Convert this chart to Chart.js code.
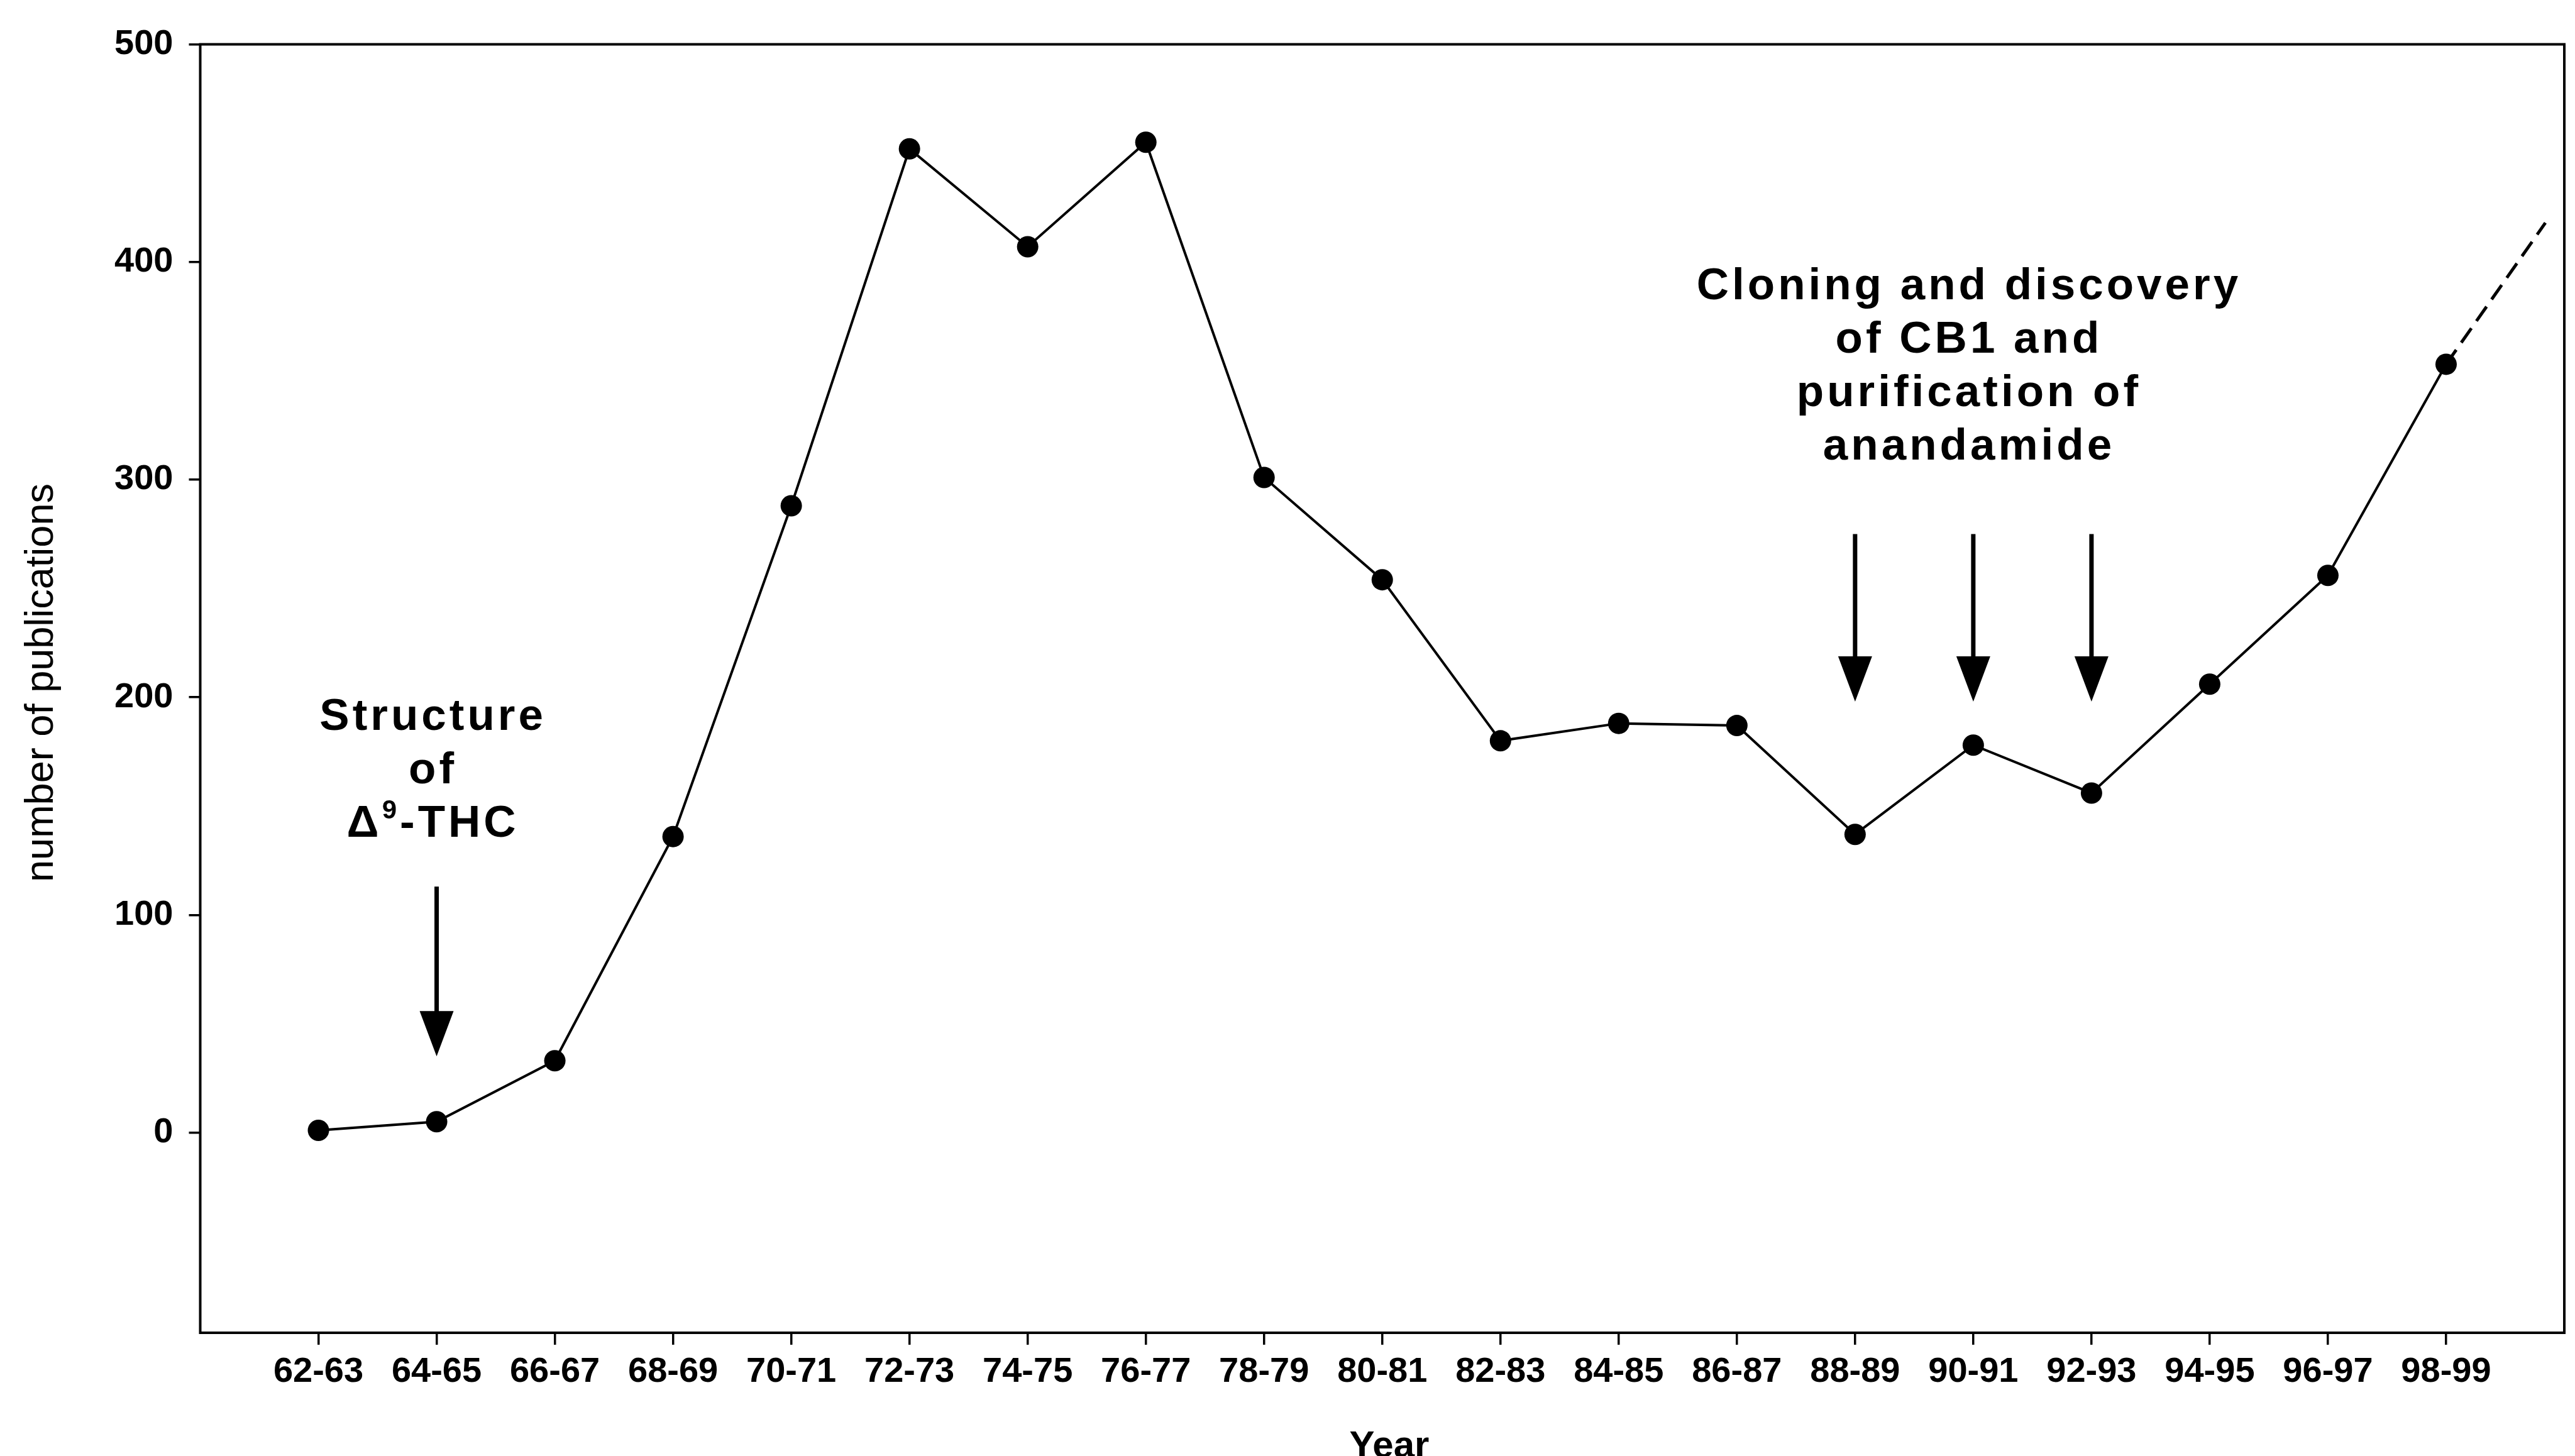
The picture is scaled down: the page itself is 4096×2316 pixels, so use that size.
<!DOCTYPE html>
<html>
<head>
<meta charset="utf-8">
<script src="https://cdn.jsdelivr.net/npm/chart.js@4.4.1/dist/chart.umd.min.js"></script>
<style>
  html, body { margin: 0; padding: 0; background: #fff; }
  canvas { display: block; }
</style>
</head>
<body>
<canvas id="graficoPublicacoes" width="4096" height="2316"></canvas>
<script>
// Número de publicações por biênio
const periodos = ['62-63', '64-65', '66-67', '68-69', '70-71', '72-73', '74-75', '76-77', '78-79', '80-81',
                  '82-83', '84-85', '86-87', '88-89', '90-91', '92-93', '94-95', '96-97', '98-99'];
const publicacoes = [1, 5, 33, 136, 288, 452, 407, 455, 301, 254, 180, 188, 187, 137, 178, 156, 206, 256, 353];

// Extrapolação tracejada depois de 98-99
const tendenciaX = [18, 18.84];
const tendenciaY = [353, 418];

const yTicks = [0, 100, 200, 300, 400, 500];

// Anotações: posição das setas (índice do período) e do texto
const setasEstrutura = [1];
const setasClonagem = [13, 14, 15];
const textoEstrutura = ['Structure', 'of', null]; // a terceira linha é Δ⁹-THC
const textoClonagem = ['Cloning and discovery', 'of CB1 and', 'purification of', 'anandamide'];

const FONTE = '"Liberation Sans", Arial, sans-serif';

// desenha texto centrado com espaçamento entre letras
function textoCentrado(ctx, txt, cx, y, espaco) {
    ctx.letterSpacing = espaco + 'px';
    const w = ctx.measureText(txt).width - espaco;
    ctx.textAlign = 'left';
    ctx.fillText(txt, cx - w / 2, y);
}

function seta(ctx, px, yTopo, yPonta) {
    const cabeca = 72, largura = 54;
    ctx.lineWidth = 7;
    ctx.beginPath();
    ctx.moveTo(px, yTopo);
    ctx.lineTo(px, yPonta - cabeca + 4);
    ctx.stroke();
    ctx.beginPath();
    ctx.moveTo(px - largura / 2, yPonta - cabeca);
    ctx.lineTo(px + largura / 2, yPonta - cabeca);
    ctx.lineTo(px, yPonta);
    ctx.closePath();
    ctx.fill();
}

const anotacoes = {
    id: 'anotacoes',
    afterDatasetsDraw(chart) {
        const { ctx, chartArea, scales: { x, y } } = chart;
        ctx.save();
        ctx.fillStyle = '#000';
        ctx.strokeStyle = '#000';

        // moldura do gráfico
        ctx.lineWidth = 4;
        ctx.strokeRect(chartArea.left, chartArea.top, chartArea.right - chartArea.left, chartArea.bottom - chartArea.top);

        // setas
        setasEstrutura.forEach(i => seta(ctx, x.getPixelForValue(i), y.getPixelForValue(113), y.getPixelForValue(35)));
        setasClonagem.forEach(i => seta(ctx, x.getPixelForValue(i), y.getPixelForValue(275), y.getPixelForValue(198)));

        ctx.textBaseline = 'alphabetic';
        ctx.font = `bold 71px ${FONTE}`;
        const passo = 85;

        // Structure of Δ9-THC
        const cxE = x.getPixelForValue(0.955);
        const yE = y.getPixelForValue(185);
        textoCentrado(ctx, textoEstrutura[0], cxE, yE, 5);
        textoCentrado(ctx, textoEstrutura[1], cxE, yE + passo, 5);
        // linha com sobrescrito
        ctx.letterSpacing = '5px';
        const partes = [
            { t: 'Δ', f: `bold 71px ${FONTE}`, dy: 0 },
            { t: '9', f: `bold 42px ${FONTE}`, dy: -29 },
            { t: '-THC', f: `bold 71px ${FONTE}`, dy: 0 }
        ];
        let total = 0;
        partes.forEach(p => { ctx.font = p.f; p.w = ctx.measureText(p.t).width; total += p.w; });
        let px = cxE - (total - 5) / 2;
        ctx.textAlign = 'left';
        partes.forEach(p => { ctx.font = p.f; ctx.fillText(p.t, px, yE + 2 * passo + p.dy); px += p.w; });

        // Cloning and discovery...
        ctx.font = `bold 71px ${FONTE}`;
        const cxC = x.getPixelForValue(13.95);
        const yC = y.getPixelForValue(383);
        textoClonagem.forEach((linha, k) => textoCentrado(ctx, linha, cxC, yC + k * passo, 5));

        // títulos dos eixos
        ctx.letterSpacing = '0px';
        ctx.textAlign = 'center';
        ctx.font = `bold 60px ${FONTE}`;
        ctx.fillText('Year', 2210, 2318);

        ctx.translate(67, 1086);
        ctx.rotate(-Math.PI / 2);
        ctx.textBaseline = 'middle';
        ctx.font = `63px ${FONTE}`;
        ctx.fillText('number of publications', 0, 0);
        ctx.restore();
    }
};

const ctx = document.getElementById('graficoPublicacoes').getContext('2d');
new Chart(ctx, {
    type: 'line',
    data: {
        datasets: [
            {
                data: publicacoes.map((v, i) => ({ x: i, y: v })),
                borderColor: '#000',
                borderWidth: 4,
                pointRadius: 17,
                pointBackgroundColor: '#000',
                pointBorderWidth: 0,
                tension: 0
            },
            {
                data: tendenciaX.map((v, i) => ({ x: v, y: tendenciaY[i] })),
                borderColor: '#000',
                borderWidth: 5,
                borderDash: [28, 14],
                pointRadius: 0,
                tension: 0
            }
        ]
    },
    options: {
        responsive: false,
        animation: false,
        layout: { padding: { top: 70.5, right: 7, left: 0, bottom: 0 } },
        plugins: {
            legend: { display: false },
            tooltip: { enabled: false }
        },
        scales: {
            x: {
                type: 'linear',
                min: -1,
                max: 19,
                afterBuildTicks: (eixo) => { eixo.ticks = periodos.map((_, i) => ({ value: i })); },
                afterFit: (eixo) => { eixo.height = 196; },
                ticks: {
                    autoSkip: false,
                    maxRotation: 0,
                    padding: 10,
                    color: '#000',
                    font: { family: '"Liberation Sans Narrow", "Liberation Sans", Arial, sans-serif', size: 56, weight: 'bold' },
                    callback: (v) => periodos[v] ?? ''
                },
                grid: { drawOnChartArea: false, drawTicks: true, tickLength: 19, color: '#000', lineWidth: 3.5 },
                border: { display: false }
            },
            y: {
                min: -92,
                max: 500,
                afterBuildTicks: (eixo) => { eixo.ticks = yTicks.map(v => ({ value: v })); },
                afterFit: (eixo) => { eixo.width = 318.5; },
                ticks: {
                    padding: 25,
                    color: '#000',
                    font: { family: FONTE, size: 56, weight: 'bold' }
                },
                grid: { drawOnChartArea: false, drawTicks: true, tickLength: 18, color: '#000', lineWidth: 3.5 },
                border: { display: false }
            }
        }
    },
    plugins: [anotacoes]
});
</script>
</body>
</html>
